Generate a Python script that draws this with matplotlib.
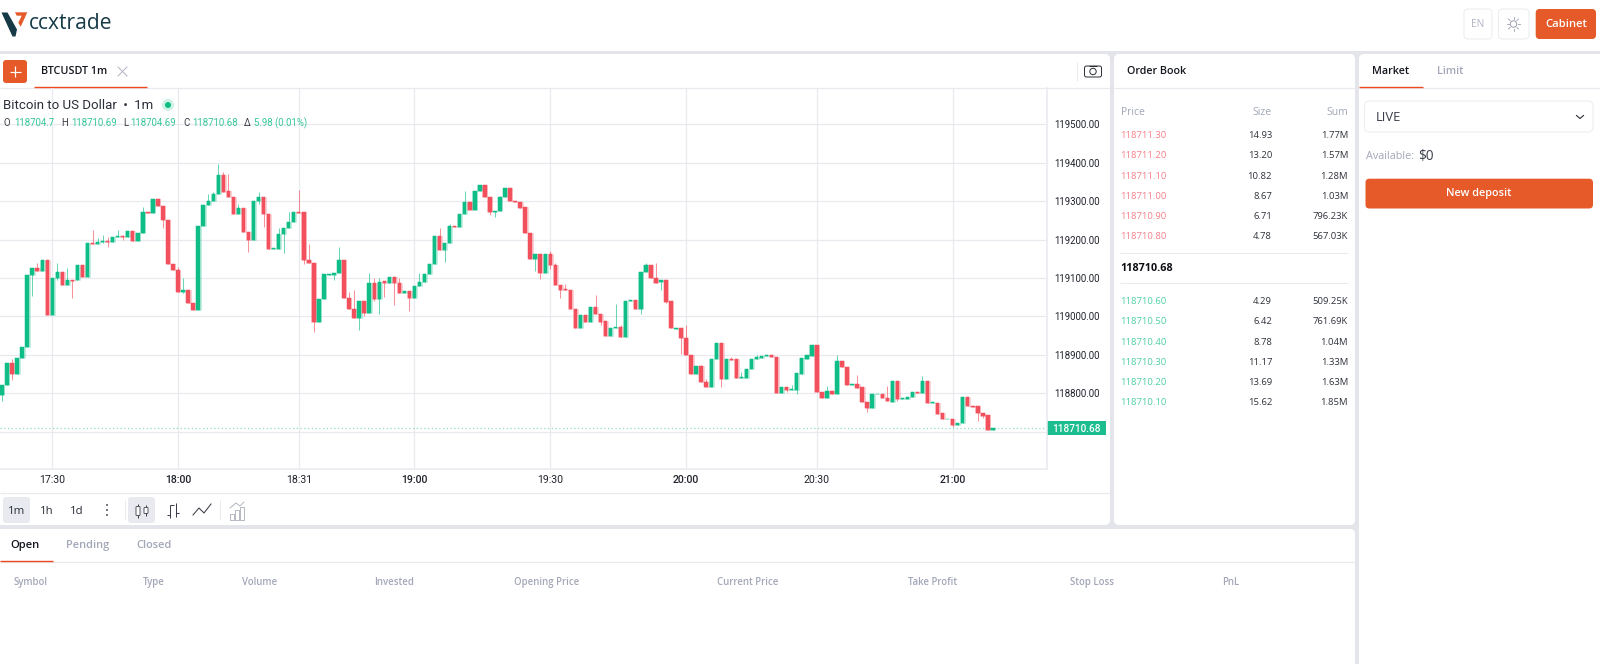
import matplotlib
matplotlib.use("Agg")
import matplotlib.pyplot as plt
from matplotlib.patches import FancyBboxPatch, Rectangle, Polygon, Circle

# ---------- data ----------
opens = [
 118795,118822,118878,118851,118893,118920,119108,119125,119117,119146,
 119003,119099,119115,119082,119095,119094,119135,119102,119192,119189,
 119194,119196,119194,119206,119209,119206,119222,119196,119218,119271,
 119269,119305,119288,119251,119137,119122,119063,119068,119035,119017,
 119235,119290,119301,119318,119367,119326,119310,119266,119282,119220,
 119198,119301,119310,119266,119176,119176,119214,119230,119245,119272,
 119271,119146,119140,118986,119046,119108,119109,119113,119146,119047,
 119019,118995,119039,119008,119087,119045,119091,119088,119102,119087,
 119062,119066,119049,119079,119090,119111,119137,119209,119172,119190,
 119236,119233,119266,119299,119278,119327,119343,119311,119272,119275,
 119310,119334,119301,119299,119284,119218,119150,119162,119113,119162,
 119133,119082,119071,119070,119020,118969,119004,118986,119024,119007,
 118987,118949,118970,118972,118947,119039,119044,119019,119115,119133,
 119100,119089,119094,119039,118968,118970,118944,118900,118851,118870,
 118830,118816,118888,118930,118838,118889,118888,118840,118841,118862,
 118888,118893,118898,118899,118895,118801,118817,118809,118809,118851,
 118890,118898,118925,118804,118788,118806,118798,118885,118869,118822,
 118824,118816,118778,118762,118797,118798,118788,118777,118831,118785,
 118785,118790,118803,118801,118832,118774,118776,118748,118732,118732,
 118718,118723,118791,118767,118766,118750,118743,118704.7]
closes = [
 118821,118878,118851,118893,118920,119109,119125,119117,119146,119003,
 119100,119115,119082,119095,119092,119135,119102,119192,119189,119194,
 119196,119194,119206,119209,119206,119222,119196,119218,119271,119269,
 119305,119288,119251,119137,119121,119064,119068,119036,119017,119235,
 119290,119301,119318,119367,119325,119310,119266,119282,119220,119198,
 119301,119310,119266,119176,119178,119214,119230,119245,119272,119270,
 119146,119139,118986,119046,119110,119110,119113,119146,119047,119019,
 118995,119039,119009,119087,119045,119089,119088,119103,119087,119062,
 119066,119049,119079,119090,119111,119137,119209,119172,119190,119236,
 119233,119266,119299,119278,119327,119343,119311,119272,119275,119310,
 119334,119300,119298,119283,119218,119150,119162,119113,119162,119133,
 119082,119070,119069,119020,118969,119004,118986,119024,119007,118985,
 118949,118971,118972,118947,119039,119044,119019,119115,119133,119100,
 119088,119094,119038,118969,118970,118944,118900,118851,118870,118830,
 118816,118888,118930,118838,118888,118887,118841,118842,118862,118888,
 118894,118898,118900,118894,118801,118817,118809,118811,118853,118892,
 118899,118925,118803,118788,118806,118798,118885,118868,118822,118824,
 118814,118778,118762,118798,118798,118788,118779,118831,118785,118788,
 118790,118803,118801,118832,118775,118777,118747,118732,118733,118718,
 118723,118791,118766,118765,118749,118741,118704,118710.68]
highs = [
 118821,118878,118888,118893,118920,119109,119125,119138,119146,119146,
 119100,119138,119115,119125,119095,119135,119135,119192,119225,119203,
 119212,119207,119206,119225,119213,119222,119222,119218,119284,119271,
 119305,119305,119288,119251,119137,119128,119099,119068,119035,119235,
 119290,119318,119325,119396,119376,119370,119310,119292,119282,119220,
 119301,119323,119310,119266,119178,119229,119230,119272,119272,119329,
 119271,119188,119140,119046,119110,119110,119113,119180,119146,119063,
 119070,119039,119039,119114,119099,119099,119091,119103,119102,119100,
 119066,119066,119079,119113,119111,119137,119209,119229,119190,119240,
 119236,119266,119326,119299,119327,119343,119343,119311,119275,119314,
 119334,119334,119301,119299,119284,119218,119162,119162,119162,119171,
 119140,119082,119084,119070,119020,119004,119004,119024,119055,119007,
 118987,118971,119032,118977,119039,119044,119044,119115,119139,119133,
 119140,119094,119094,119039,118970,118970,118977,118900,118870,118873,
 118837,118888,118930,118930,118888,118894,118888,118855,118862,118888,
 118900,118898,118900,118899,118895,118817,118817,118822,118853,118892,
 118899,118925,118925,118804,118820,118806,118900,118885,118869,118824,
 118848,118816,118778,118798,118798,118798,118818,118831,118831,118788,
 118790,118803,118803,118846,118832,118777,118776,118748,118733,118732,
 118723,118791,118791,118767,118766,118750,118743,118710.69]
lows = [
 118781,118822,118835,118851,118893,118920,119054,119117,119117,119003,
 119003,119095,119082,119082,119049,119094,119102,119102,119189,119189,
 119192,119180,119194,119206,119198,119206,119196,119196,119218,119269,
 119269,119288,119231,119137,119121,119064,119062,119036,119017,119017,
 119235,119290,119301,119318,119325,119310,119266,119266,119220,119167,
 119198,119292,119233,119176,119176,119176,119166,119230,119245,119270,
 119137,119139,118960,118986,119046,119108,119094,119113,119047,119019,
 118995,118964,119000,119008,119040,119006,119050,119088,119031,119062,
 119062,119014,119049,119079,119090,119111,119137,119172,119142,119190,
 119233,119233,119266,119278,119278,119327,119311,119265,119258,119275,
 119310,119300,119298,119283,119218,119150,119119,119097,119113,119123,
 119082,119048,119069,119020,118969,118969,118986,118986,119007,118979,
 118949,118949,118970,118947,118947,119039,119019,119006,119115,119100,
 119088,119068,119034,118969,118968,118901,118900,118851,118851,118830,
 118816,118816,118888,118816,118838,118887,118841,118840,118841,118862,
 118888,118893,118898,118894,118801,118801,118803,118809,118798,118851,
 118890,118898,118803,118788,118788,118798,118798,118868,118822,118822,
 118814,118778,118751,118762,118797,118788,118779,118777,118781,118785,
 118785,118790,118801,118801,118775,118774,118747,118732,118732,118712,
 118718,118723,118766,118765,118727,118737,118704,118704.69]

last_price = 118710.68
price_ticks = [118700, 118800, 118900, 119000, 119100, 119200, 119300, 119400, 119500]
price_labels = [None, "118800.00", "118900.00", "119000.00", "119100.00",
                "119200.00", "119300.00", "119400.00", "119500.00"]
time_ticks = [10, 35, 59, 82, 109, 136, 162, 189]
time_labels = ["17:30", "18:00", "18:31", "19:00", "19:30", "20:00", "20:30", "21:00"]
asks = [("118711.30", "14.93", "1.77M"), ("118711.20", "13.20", "1.57M"),
        ("118711.10", "10.82", "1.28M"), ("118711.00", "8.67", "1.03M"),
        ("118710.90", "6.71", "796.23K"), ("118710.80", "4.78", "567.03K")]
bids = [("118710.60", "4.29", "509.25K"), ("118710.50", "6.42", "761.69K"),
        ("118710.40", "8.78", "1.04M"), ("118710.30", "11.17", "1.33M"),
        ("118710.20", "13.69", "1.63M"), ("118710.10", "15.62", "1.85M")]
table_heads = ["Symbol", "Type", "Volume", "Invested", "Opening Price",
               "Current Price", "Take Profit", "Stop Loss", "PnL"]

# ---------- style ----------
W, H = 1600, 664
GREEN, RED = "#0fbd87", "#f3505e"
GRID = "#e9eaef"
GAP = "#e3e5ea"
ORANGE = "#e55a28"
INK = "#15171f"
MUTED = "#a3a7b8"
UI = "Open Sans"
TV = "Roboto"


def pt(px):
    return px * 0.72


fig = plt.figure(figsize=(W / 100, H / 100), dpi=100, facecolor="white")
ui = fig.add_axes([0, 0, 1, 1], zorder=1)
top = fig.add_axes([0, 0, 1, 1], zorder=3)
for a in (ui, top):
    a.set_xlim(0, W)
    a.set_ylim(H, 0)
    a.axis("off")
top.patch.set_alpha(0)


def label(x, y, s, size=9.5, color=INK, ha="left", weight="normal", family=UI, zorder=5):
    top.text(x, y + 1.2, s, fontsize=pt(size), color=color, ha=ha, va="center",
             fontweight=weight, family=family, zorder=zorder)


def rect(x0, y0, x1, y1, color, zorder=1):
    ui.add_patch(Rectangle((x0, y0), x1 - x0, y1 - y0, fc=color, ec="none", zorder=zorder))


def rbox(x0, y0, x1, y1, fc, ec="none", r=3, lw=0.8, zorder=2):
    ui.add_patch(FancyBboxPatch((x0 + r, y0 + r), x1 - x0 - 2 * r, y1 - y0 - 2 * r,
                                boxstyle=f"round,pad={r},rounding_size={r}",
                                fc=fc, ec=ec, lw=lw, zorder=zorder))


def hline(x0, x1, y, color, lw=1.0, zorder=3):
    ui.plot([x0, x1], [y, y], color=color, lw=lw * 0.72, solid_capstyle="butt", zorder=zorder)


def vline(x, y0, y1, color, lw=1.0, zorder=3):
    ui.plot([x, x], [y0, y1], color=color, lw=lw * 0.72, solid_capstyle="butt", zorder=zorder)


# page background and panels
rect(0, 51, W, H, GAP, zorder=0)
rbox(-8, 54, 1110, 525, "white", r=5)
rbox(1114, 54, 1355, 525, "white", r=5)
rbox(-8, 529, 1355, H + 10, "white", r=5)
rbox(1359, 54, W + 8, H + 10, "white", r=5)

# logo
ui.add_patch(Polygon([(1.5, 12.5), (7.5, 12.5), (17, 29.5), (15.5, 36.5), (12.5, 36.5)],
                     fc="#173a47", ec="none", zorder=4))
ui.add_patch(Polygon([(15, 12.3), (27.3, 12.3), (20.7, 26.7), (18.3, 22.7), (21.7, 15.7), (16.7, 15.7)],
                     fc=ORANGE, ec="none", zorder=4))
label(29, 22.5, "ccxtrade", size=21, color="#173a47", weight="medium")

# header buttons
rbox(1464, 9, 1492, 39, "white", ec="#eceef2", r=4)
label(1478, 23.5, "EN", size=10, color="#b0b3c2", ha="center")
rbox(1498.5, 9, 1529, 39, "white", ec="#eceef2", r=4)
ui.add_patch(Circle((1513.5, 24), 3.2, fc="white", ec="#9a9dac", lw=0.7, zorder=4))
for dx, dy in [(0, -6), (0, 6), (6, 0), (-6, 0), (4.3, 4.3), (-4.3, -4.3), (4.3, -4.3), (-4.3, 4.3)]:
    ui.plot([1513.5 + dx * 0.8, 1513.5 + dx * 1.15], [24 + dy * 0.8, 24 + dy * 1.15],
            color="#9a9dac", lw=0.6, zorder=4)
rbox(1535.7, 9, 1596, 39, ORANGE, r=4)
label(1566, 23.5, "Cabinet", size=11.2, color="white", ha="center", weight="semibold")

# chart tab bar
rbox(3, 60, 27, 83, ORANGE, r=3)
hline(9.5, 20.5, 71.5, "white", lw=1.2, zorder=4)
vline(15, 66, 77, "white", lw=1.2, zorder=4)
label(41, 70, "BTCUSDT 1m", size=10.8, weight="semibold")
ui.plot([118, 127], [67, 76], color="#b0b3c2", lw=0.7, zorder=4)
ui.plot([118, 127], [76, 67], color="#b0b3c2", lw=0.7, zorder=4)
hline(0, 1110, 87.5, GRID, lw=1.2)
hline(34, 147, 86.5, "#ee4a22", lw=1.4, zorder=4)
vline(1076.5, 62, 81, GRID)
rbox(1084.5, 66, 1101.5, 77, "white", ec="#2a2c33", r=2, lw=0.7, zorder=4)
ui.add_patch(Circle((1093, 71.5), 3.2, fc="white", ec="#2a2c33", lw=0.7, zorder=5))
hline(1089, 1097, 65.5, "#2a2c33", lw=1, zorder=5)

# candlestick axes, through the data scale
PXPERUNIT = 269 / 700
X0, DX = 2.0, 5.03
chart = fig.add_axes([0, 1 - 469 / H, 1047 / W, (469 - 87.5) / H], zorder=2)
chart.patch.set_alpha(0)
chart.set_xlim(-X0 / DX, (1047 - X0) / DX)
chart.set_ylim(119500 - (469 - 124.3) / PXPERUNIT, 119500 + (124.3 - 87.5) / PXPERUNIT)
for side in ("top", "left"):
    chart.spines[side].set_visible(False)
for side in ("right", "bottom"):
    chart.spines[side].set_color(GRID)
    chart.spines[side].set_linewidth(1.1)
chart.set_axisbelow(True)
chart.grid(True, color=GRID, lw=0.9)
chart.yaxis.tick_right()
chart.set_yticks(price_ticks)
chart.set_yticklabels([s or "" for s in price_labels], fontsize=pt(9.6), family=TV, color="#20232c")
chart.set_xticks(time_ticks)
chart.set_xticklabels(time_labels, fontsize=pt(10.5), family=TV, color="#20232c")
for t, lab in zip(chart.get_xticklabels(), time_labels):
    if lab.endswith(":00"):
        t.set_fontweight("medium")
chart.tick_params(axis="both", length=0)
chart.tick_params(axis="y", pad=5.5)
chart.tick_params(axis="x", pad=4.5)

xs = list(range(len(opens)))
colors = [GREEN if c >= o else RED for o, c in zip(opens, closes)]
body_h = [abs(c - o) for o, c in zip(opens, closes)]
body_b = [min(o, c) for o, c in zip(opens, closes)]
chart.vlines(xs, lows, highs, colors=colors, lw=0.75, alpha=0.62, zorder=3)
chart.bar(xs, body_h, bottom=body_b, width=0.96, color=colors, edgecolor=colors,
          linewidth=0.5, alpha=0.22, zorder=3.5)
chart.bar(xs, body_h, bottom=body_b, width=0.68, color=colors, edgecolor=colors,
          linewidth=0.35, zorder=4)
chart.axhline(last_price, color="#8fdcc0", lw=0.9, ls=(0, (1, 2)), zorder=2)

# chart legend
label(3, 104, "Bitcoin to US Dollar  •  1m", size=13.2, color="#2a2e39", family=TV)
ui.add_patch(Circle((168, 105), 6, fc="#cdf1e5", ec="none", zorder=5))
ui.add_patch(Circle((168, 105), 3, fc=GREEN, ec="none", zorder=6))
legend_parts = [(3, "O", "#3a3d47"), (14.5, "118704.7", "#38c79a"), (61, "H", "#3a3d47"),
                (71, "118710.69", "#38c79a"), (123, "L", "#3a3d47"), (130.5, "118704.69", "#38c79a"),
                (183, "C", "#3a3d47"), (192, "118710.68", "#38c79a"), (244, "Δ", "#3a3d47"),
                (253.5, "5.98 (0.01%)", "#38c79a")]
for x, s, c in legend_parts:
    label(x, 122, s, size=9.6, color=c, family=TV)

# current price tag
rect(1047, 421, 1106, 435, "#1cbd8e", zorder=6)
label(1076.5, 427.3, f"{last_price:.2f}", size=10, color="white", ha="center", weight="medium",
      family=TV, zorder=7)

# chart toolbar
hline(0, 1110, 492.5, GRID, lw=1.2)
rbox(3, 497, 30, 523, "#e9eaef", r=3)
for x, s in [(17, "1m"), (47, "1h"), (77, "1d")]:
    label(x, 510, s, size=11.4, color="#2a2e39", ha="center")
for y in (505, 510, 515):
    ui.add_patch(Circle((107, y), 0.9, fc="#2a2e39", ec="none", zorder=4))
vline(124.5, 500, 520, GRID)
rbox(128, 497, 155, 523, "#e9eaef", r=3)
for x, y0, y1 in [(138, 504, 518), (146, 505, 516)]:
    vline(x, y0, y1, "#3a3d47", lw=1, zorder=4)
    rbox(x - 2, y0 + 2.5, x + 2, y1 - 2.5, "white", ec="#3a3d47", r=0.8, lw=0.6, zorder=5)
vline(170, 505, 518, "#3a3d47", zorder=4)
hline(170, 174, 505, "#3a3d47", zorder=4)
hline(167, 170, 515, "#3a3d47", zorder=4)
vline(176, 503, 517, "#3a3d47", zorder=4)
hline(176, 179, 513, "#3a3d47", zorder=4)
ui.plot([193, 199, 204, 211], [515, 508, 513, 504], color="#3a3d47", lw=0.75, zorder=4)
vline(219.5, 500, 520, GRID)
ui.plot([230, 236, 240, 244], [508, 503, 506, 502], color="#a9acb8", lw=0.6, zorder=4)
for x0, y0 in [(230, 514), (235, 510), (240, 507)]:
    ui.add_patch(Rectangle((x0, y0), 4, 520 - y0, fc="none", ec="#a9acb8", lw=0.6, zorder=4))

# order book
label(1127, 70.5, "Order Book", size=10.8, weight="semibold")
hline(1114, 1355, 87.5, GRID, lw=1.2)
label(1120.5, 111, "Price", size=10.4, color=MUTED)
label(1272, 111, "Size", size=10.4, color=MUTED, ha="right")
label(1348, 111, "Sum", size=10.4, color=MUTED, ha="right")
ask_rows = [135.3, 155.3, 175.7, 195.7, 216, 236]
bid_rows = [301.3, 321.3, 341.7, 361.7, 381.7, 402]
for y, row in zip(ask_rows, asks):
    label(1120.5, y - 0.5, row[0], size=9.5, color="#f5808a")
    label(1272, y - 0.5, row[1], size=9.5, color="#2f323b", ha="right")
    label(1348, y - 0.5, row[2], size=9.5, color="#2f323b", ha="right")
for y, row in zip(bid_rows, bids):
    label(1120.5, y - 0.5, row[0], size=9.5, color="#4fcfa6")
    label(1272, y - 0.5, row[1], size=9.5, color="#2f323b", ha="right")
    label(1348, y - 0.5, row[2], size=9.5, color="#2f323b", ha="right")
hline(1120, 1348, 252.5, GRID)
hline(1120, 1348, 283, GRID)
label(1120.5, 267.5, f"{last_price:.2f}", size=10.8, color="#0c0d12", weight="bold")

# market panel
label(1372, 70, "Market", size=10.8, weight="semibold")
label(1437, 70, "Limit", size=10.8, color=MUTED, weight="semibold")
hline(1359, W, 87.5, GRID, lw=1.2)
hline(1359, 1423, 86.5, "#ee4a22", lw=1.4, zorder=4)
rbox(1364.5, 101, 1593, 132, "white", ec="#eceef2", r=5)
label(1376, 116.5, "LIVE", size=13, color="#3a3d47")
ui.plot([1576.5, 1580, 1583.5], [115.5, 118.5, 115.5], color="#2a2c33", lw=0.8, zorder=4)
label(1365.5, 155.5, "Available:", size=10.9, color=MUTED)
label(1418, 155, "$0", size=13.5, color="#3a3d47")
rbox(1365.5, 178.7, 1593, 208.5, ORANGE, r=4)
label(1479, 192.5, "New deposit", size=10.9, color="white", ha="center", weight="semibold")

# positions table
label(10, 544.5, "Open", size=11.2, weight="semibold")
label(66, 544.5, "Pending", size=11, color=MUTED, weight="semibold")
label(136.5, 544.5, "Closed", size=11, color=MUTED, weight="semibold")
hline(0, 1355, 561.5, GRID, lw=1.2)
hline(0, 53, 560.5, "#ee4a22", lw=1.4, zorder=4)
head_x = [13.4, 143, 242, 374, 514, 717, 907.6, 1070, 1222]
for x, s in zip(head_x, table_heads):
    label(x, 581, s, size=9.7, color=MUTED, weight="semibold")

fig.savefig("out.png", dpi=100, facecolor="white")
